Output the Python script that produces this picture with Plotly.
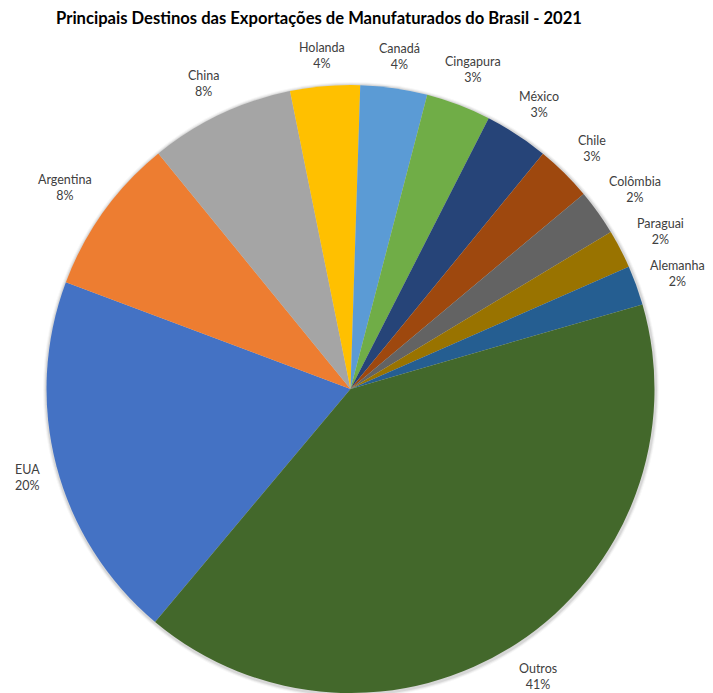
import math
import plotly.graph_objects as go

# Destinations of Brazilian manufactured exports, 2021 (share of total)
destinos = ["EUA", "Argentina", "China", "Holanda", "Canadá", "Cingapura",
            "México", "Chile", "Colômbia", "Paraguai", "Alemanha", "Outros"]
participacao = [19.6, 8.4, 7.7, 3.7, 3.55, 3.45, 3.4, 3.0, 2.45, 2.05, 2.1, 40.6]
cores = ["#4472C4", "#ED7D31", "#A5A5A5", "#FFC000", "#5B9BD5", "#70AD47",
         "#264478", "#9E480E", "#636363", "#997300", "#255E91", "#43682B"]

titulo = "Principais Destinos das Exportações de Manufaturados do Brasil - 2021"

W, H = 713, 693
fonte = "Lato, 'Open Sans', sans-serif"
tam_rotulo = 12.5
rotacao = 220  # degrees clockwise from 12 o'clock where the first slice starts

# pie geometry in pixels
esq, dir_, topo = 46, 655, 85
cx = (esq + dir_) / 2
raio = (dir_ - esq) / 2
cy = topo + raio


def px(x):
    return x / W


def py(y):
    return 1 - y / H


fig = go.Figure(
    go.Pie(
        labels=destinos,
        values=participacao,
        sort=False,
        direction="clockwise",
        rotation=rotacao,
        marker=dict(colors=cores, line=dict(width=0)),
        textinfo="none",
        hoverinfo="label+percent",
        showlegend=False,
        domain=dict(x=[px(esq), px(dir_)], y=[0, py(topo)]),
    )
)

# soft outer shadow around the pie
for extra, alfa in [(3.5, 0.03), (2.5, 0.05), (1.5, 0.08)]:
    fig.add_shape(
        type="circle", layer="below", xref="paper", yref="paper",
        x0=px(cx - raio - extra + 0.5), x1=px(cx + raio + extra + 0.5),
        y0=py(cy + raio + extra + 0.5), y1=py(cy - raio - extra + 0.5),
        fillcolor=f"rgba(0,0,0,{alfa})", line=dict(width=0),
    )

# outside-end data labels: "name" above "percent", placed past each slice's mid angle
total = sum(participacao)
largura_char = 0.45 * tam_rotulo
alt_bloco = 2 * 1.3 * tam_rotulo
folga = 17
acumulado = 0.0
for nome, v in zip(destinos, participacao):
    meio = math.radians(rotacao + (acumulado + v / 2) / total * 360)
    acumulado += v
    pct = f"{round(v / total * 100)}%"
    larg = max(len(nome), len(pct)) * largura_char
    s, c = math.sin(meio), math.cos(meio)
    alcance = abs(s) * larg / 2 + abs(c) * alt_bloco / 2
    r_txt = raio + folga + alcance
    x = cx + s * r_txt
    y = cy - c * r_txt + 3
    y = max(y, 56)  # keep labels clear of the title
    y = min(y, 676)  # and inside the bottom edge
    fig.add_annotation(
        x=px(x), y=py(y), xref="paper", yref="paper",
        text=f"{nome}<br>{pct}", showarrow=False,
        xanchor="center", yanchor="middle", align="center",
        font=dict(family=fonte, size=tam_rotulo, color="#404040"),
    )

fig.update_layout(
    width=W,
    height=H,
    margin=dict(l=0, r=0, t=0, b=0),
    paper_bgcolor="white",
    plot_bgcolor="white",
    title=dict(
        text=f"<b>{titulo}</b>",
        x=319 / W,
        xanchor="center",
        y=py(18),
        yanchor="middle",
        font=dict(family=fonte, size=16.6, color="#000000"),
    ),
)

fig.write_html("out.html")
